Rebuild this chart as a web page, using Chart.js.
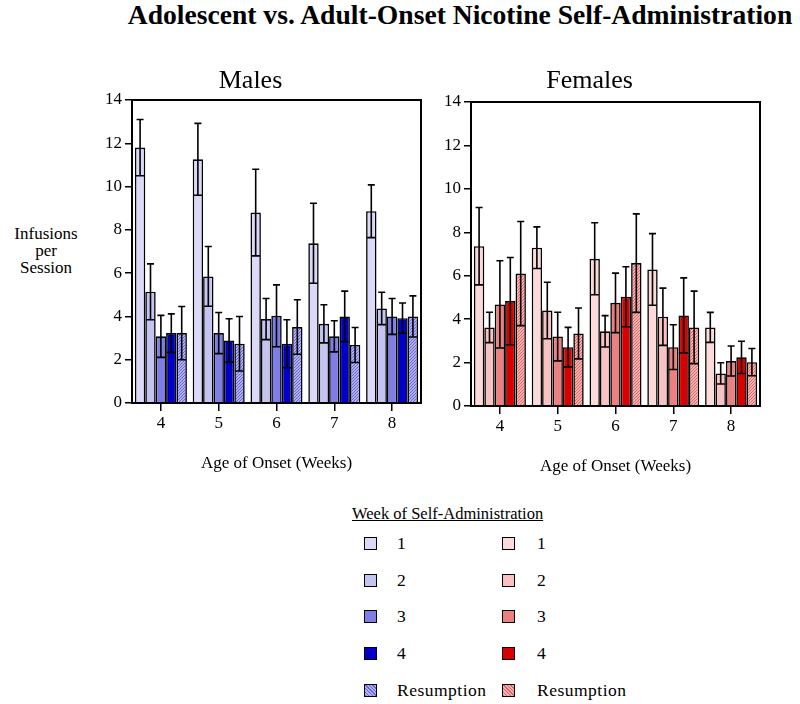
<!DOCTYPE html>
<html>
<head>
<meta charset="utf-8">
<script src="https://cdn.jsdelivr.net/npm/chart.js@4.4.1/dist/chart.umd.min.js"></script>
<style>
  html, body { margin: 0; padding: 0; background: #fff; }
  body { width: 800px; height: 704px; position: relative; overflow: hidden; font-family: 'Liberation Serif', 'Times New Roman', serif; color: #000; }
  .abs { position: absolute; }
  #title { left: 0; width: 920px; top: 1px; text-align: center; font-weight: bold; font-size: 27.6px; line-height: 27px; white-space: nowrap; }
  #ytitle { left: 0; width: 92px; top: 225px; text-align: center; font-size: 17px; line-height: 17px; }
  #legtitle { left: 352px; top: 505px; font-size: 16.5px; line-height: 18px; text-decoration: underline; white-space: nowrap; }
  .sw { position: absolute; width: 11px; height: 11px; border: 1.5px solid #000; }
  .lab { position: absolute; font-size: 17.5px; line-height: 20px; letter-spacing: 0.5px; white-space: nowrap; }
</style>
</head>
<body>
<div id="title" class="abs">Adolescent vs. Adult-Onset Nicotine Self-Administration</div>
<div id="ytitle" class="abs">Infusions<br>per<br>Session</div>
<div class="abs" style="left:80px;top:60px;width:350px;height:420px;"><canvas id="males"></canvas></div>
<div class="abs" style="left:419px;top:62px;width:350px;height:421px;"><canvas id="females"></canvas></div>
<div id="legtitle" class="abs">Week of Self-Administration</div>
<div id="legend"></div>
<script>
// ---- Data ----
const categories = ['4', '5', '6', '7', '8'];
const weekLabels = ['1', '2', '3', '4', 'Resumption'];
const yTicks = [0, 2, 4, 6, 8, 10, 12, 14];

// Males: mean infusions per session, by week of self-administration
const malesWeek1 = [11.8, 11.26, 8.8, 7.38, 8.86];
const malesWeek2 = [5.14, 5.85, 3.88, 3.66, 4.37];
const malesWeek3 = [3.08, 3.23, 4.03, 3.08, 4.0];
const malesWeek4 = [3.23, 2.89, 2.74, 4.0, 3.92];
const malesResump = [3.23, 2.74, 3.51, 2.68, 4.0];
// Males: SEM
const malesWeek1Err = [1.3, 1.66, 2.0, 1.85, 1.22];
const malesWeek2Err = [1.29, 1.38, 0.95, 0.88, 0.75];
const malesWeek3Err = [0.97, 0.95, 1.43, 0.72, 0.83];
const malesWeek4Err = [0.89, 1.0, 1.11, 1.17, 0.7];
const malesResumpErr = [1.23, 1.26, 1.26, 0.81, 0.95];

// Females
const femalesWeek1 = [7.36, 7.29, 6.78, 6.29, 3.62];
const femalesWeek2 = [3.62, 4.4, 3.44, 4.11, 1.5];
const femalesWeek3 = [4.68, 3.2, 4.75, 2.71, 2.07];
const femalesWeek4 = [4.83, 2.71, 5.03, 4.17, 2.24];
const femalesResump = [6.1, 3.34, 6.58, 3.62, 2.02];
const femalesWeek1Err = [1.78, 0.96, 1.66, 1.65, 0.69];
const femalesWeek2Err = [0.7, 1.3, 0.72, 1.32, 0.49];
const femalesWeek3Err = [2.01, 1.12, 1.37, 1.03, 0.69];
const femalesWeek4Err = [2.01, 0.91, 1.38, 1.73, 0.74];
const femalesResumpErr = [2.4, 1.17, 2.27, 1.67, 0.63];

// ---- Styles ----
const FONT = "'Liberation Serif', 'Times New Roman', serif";
function hatch(base, line) {
  const c = document.createElement('canvas');
  c.width = 3; c.height = 3;
  const x = c.getContext('2d');
  x.fillStyle = base; x.fillRect(0, 0, 3, 3);
  x.fillStyle = line;
  for (let i = 0; i < 3; i++) { x.fillRect(i, 2 - i, 1, 1); }
  return x.createPattern(c, 'repeat');
}
const blueColors = ['#dadaf8', '#c4c4f2', '#7e7ee6', '#0000c8', hatch('#b0b0f0', '#6464da')];
const redColors = ['#fcdada', '#f8c2c2', '#ec8080', '#da0000', hatch('#f6b0b0', '#e06464')];
const blueCss = ['#dadaf8', '#c4c4f2', '#7e7ee6', '#0000c8',
  'repeating-linear-gradient(45deg,#6464da 0 1px,#b0b0f0 1px 2.5px),#b0b0f0'];
const redCss = ['#fcdada', '#f8c2c2', '#ec8080', '#da0000',
  'repeating-linear-gradient(45deg,#e06464 0 1px,#f6b0b0 1px 2.5px),#f6b0b0'];

const frameAndErrors = {
  id: 'frameAndErrors',
  afterDatasetsDraw(chart) {
    const ctx = chart.ctx;
    const ys = chart.scales.y;
    ctx.save();
    ctx.strokeStyle = '#000';
    ctx.lineWidth = 1.6;
    chart.data.datasets.forEach((ds, i) => {
      const meta = chart.getDatasetMeta(i);
      meta.data.forEach((bar, j) => {
        const m = ds.data[j], e = ds.err[j];
        const x = bar.x, w = bar.width;
        const yT = ys.getPixelForValue(m + e);
        const yL = ys.getPixelForValue(m - e);
        ctx.beginPath();
        ctx.moveTo(x, yL); ctx.lineTo(x, yT);
        ctx.moveTo(x - 3.5, yT); ctx.lineTo(x + 3.5, yT);
        ctx.moveTo(x - w / 2 + 1, yL); ctx.lineTo(x + w / 2 - 1, yL);
        ctx.stroke();
      });
    });
    const a = chart.chartArea;
    ctx.lineWidth = 2;
    ctx.strokeRect(a.left, a.top, a.right - a.left, a.bottom - a.top);
    ctx.restore();
  }
};

function makeChart(id, title, series, errs, colors, titlePadTop) {
  return new Chart(document.getElementById(id), {
    type: 'bar',
    data: {
      labels: categories,
      datasets: series.map((d, i) => ({
        label: weekLabels[i],
        data: d,
        err: errs[i],
        backgroundColor: colors[i],
        borderColor: '#000',
        borderWidth: 1.6,
        categoryPercentage: 0.9,
        barPercentage: 1.0
      }))
    },
    options: {
      responsive: true,
      maintainAspectRatio: false,
      animation: false,
      layout: { padding: { left: 0, right: 9, top: 0, bottom: 0 } },
      plugins: {
        legend: { display: false },
        tooltip: { enabled: false },
        title: {
          display: true, text: title, color: '#000',
          font: { family: FONT, size: 26, weight: 'normal' },
          padding: { top: titlePadTop, bottom: 8.8 - titlePadTop }
        }
      },
      scales: {
        x: {
          afterFit(s) { s.height = 77; },
          grid: { display: true, drawOnChartArea: false, drawTicks: true, tickLength: 8, offset: false, color: '#000', lineWidth: 1.5 },
          border: { display: false },
          ticks: { color: '#000', font: { family: FONT, size: 17 }, padding: 2 },
          title: { display: true, text: 'Age of Onset (Weeks)', color: '#000', font: { family: FONT, size: 17 }, padding: { top: 4, bottom: 6 } }
        },
        y: {
          min: 0, max: 14,
          afterFit(s) { s.width = 52; },
          afterBuildTicks(s) { s.ticks = yTicks.map(v => ({ value: v })); },
          grid: { display: true, drawOnChartArea: false, drawTicks: true, tickLength: 7, color: '#000', lineWidth: 1.5 },
          border: { display: false },
          ticks: { color: '#000', font: { family: FONT, size: 17 }, padding: 3 }
        }
      }
    },
    plugins: [frameAndErrors]
  });
}

makeChart('males', 'Males',
  [malesWeek1, malesWeek2, malesWeek3, malesWeek4, malesResump],
  [malesWeek1Err, malesWeek2Err, malesWeek3Err, malesWeek4Err, malesResumpErr],
  blueColors, 6);
makeChart('females', 'Females',
  [femalesWeek1, femalesWeek2, femalesWeek3, femalesWeek4, femalesResump],
  [femalesWeek1Err, femalesWeek2Err, femalesWeek3Err, femalesWeek4Err, femalesResumpErr],
  redColors, 4);

// ---- Legend ----
const legend = document.getElementById('legend');
const rowY = [544, 581, 617, 654, 691];
weekLabels.forEach((lab, i) => {
  [[364, 397, blueCss], [502, 537, redCss]].forEach(([sx, lx, css]) => {
    const s = document.createElement('div');
    s.className = 'sw';
    s.style.left = sx + 'px';
    s.style.top = (rowY[i] - 7) + 'px';
    s.style.background = css[i];
    legend.appendChild(s);
    const t = document.createElement('div');
    t.className = 'lab';
    t.style.left = lx + 'px';
    t.style.top = (rowY[i] - 11) + 'px';
    t.textContent = lab;
    legend.appendChild(t);
  });
});
</script>
</body>
</html>
